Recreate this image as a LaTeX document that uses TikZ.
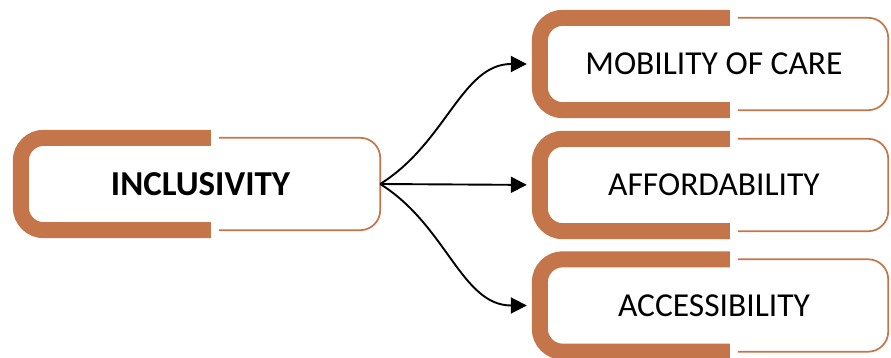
\documentclass[tikz,border=0pt]{standalone}
\usepackage{fontspec}
\setmainfont{Carlito}
\usepackage{tikz}
\usetikzlibrary{arrows.meta}
\definecolor{clay}{RGB}{196,117,74}
\tikzset{
  box/.style={inner sep=0pt, minimum height=92pt, font=\fontsize{33.5}{40}\selectfont},
  bracket/.style={draw=clay, line width=16pt, rounded corners=23pt},
  rim/.style={draw=clay, line width=1.7pt, rounded corners=20pt},
  conn/.style={-{Triangle[length=16pt,width=16pt]}, line width=1.9pt, shorten >=13pt}
}
\begin{document}
\begin{tikzpicture}[x=1pt,y=-1pt]
\useasboundingbox (0,0) rectangle (891,358);
\node[box, minimum width=359pt, font=\fontsize{35}{42}\selectfont\bfseries] (incl) at (200.5,184) {INCLUSIVITY};
\node[box, minimum width=348pt] (mob) at (714,64) {MOBILITY OF CARE};
\node[box, minimum width=348pt] (aff) at (714,185) {AFFORDABILITY};
\node[box, minimum width=348pt] (acc) at (714,305.5) {ACCESSIBILITY};
% frames
\foreach \n in {incl,mob,aff,acc}{
  \draw[bracket] ([xshift=190pt]\n.north west) -- (\n.north west) -- (\n.south west) -- ([xshift=190pt]\n.south west);
  \draw[rim] ([xshift=198pt]\n.north west) -- (\n.north east) -- (\n.south east) -- ([xshift=198pt]\n.south west);
}
% connectors
\draw[conn] (incl.east) to[out=32,in=180] (mob.west);
\draw[conn] (incl.east) -- (aff.west);
\draw[conn] (incl.east) to[out=-32,in=180] (acc.west);
\end{tikzpicture}
\end{document}
